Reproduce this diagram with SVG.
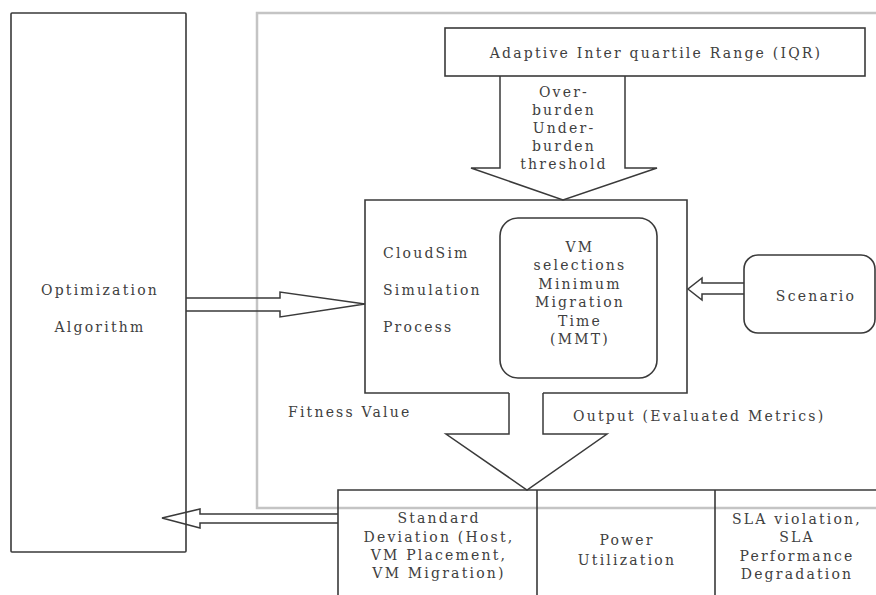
<svg xmlns="http://www.w3.org/2000/svg" width="876" height="595" viewBox="0 0 876 595">
  <style>
    .box { fill: none; stroke: #3a3a3a; stroke-width: 1.6; }
    .frame { fill: none; stroke: #c4c4c4; stroke-width: 2.5; }
    .arrow { fill: none; stroke: #3a3a3a; stroke-width: 1.5; stroke-linejoin: miter; }
    text { font-family: "DejaVu Serif", "Liberation Serif", serif; font-size: 14px; fill: #404040; letter-spacing: 2.2px; }
    .c { text-anchor: middle; }
  </style>
  <rect width="876" height="595" fill="#ffffff"/>

  <!-- outer light frame around the simulation part -->
  <path class="frame" d="M 880 13 H 257 V 508 H 880"/>

  <g id="optimization">
    <rect class="box" x="11" y="13" width="175" height="539" rx="1"/>
    <text class="c" x="100" y="295">Optimization</text>
    <text class="c" x="100" y="332">Algorithm</text>
  </g>

  <g id="iqr">
    <rect class="box" x="445" y="28" width="420" height="48"/>
    <text class="c" x="656" y="58">Adaptive Inter quartile Range (IQR)</text>
  </g>

  <g id="cloudsim">
    <path class="box" d="M 509 393 H 365 V 200 H 687 V 393 H 543"/>
    <text x="383" y="258">CloudSim</text>
    <text x="383" y="295">Simulation</text>
    <text x="383" y="332">Process</text>
  </g>

  <g id="vm-selection">
    <rect class="box" x="500" y="218" width="157" height="160" rx="18"/>
    <text class="c" x="580" y="252">VM</text>
    <text class="c" x="580" y="270">selections</text>
    <text class="c" x="580" y="289">Minimum</text>
    <text class="c" x="580" y="307">Migration</text>
    <text class="c" x="580" y="326">Time</text>
    <text class="c" x="580" y="344">(MMT)</text>
  </g>

  <g id="scenario">
    <rect class="box" x="744" y="255" width="131" height="78" rx="14"/>
    <text class="c" x="816" y="301">Scenario</text>
  </g>

  <g id="metrics">
    <path class="box" d="M 338 595 V 490 H 880 M 537 490 V 595 M 715 490 V 595"/>
    <text class="c" x="439" y="523">Standard</text>
    <text class="c" x="439" y="542">Deviation (Host,</text>
    <text class="c" x="439" y="560">VM Placement,</text>
    <text class="c" x="439" y="578">VM Migration)</text>
    <text class="c" x="627" y="545">Power</text>
    <text class="c" x="627" y="565">Utilization</text>
    <text class="c" x="797" y="524">SLA violation,</text>
    <text class="c" x="797" y="542">SLA</text>
    <text class="c" x="797" y="561">Performance</text>
    <text class="c" x="797" y="579">Degradation</text>
  </g>

  <g id="connectors">
    <!-- IQR thresholds down into the simulation -->
    <path class="arrow" d="M 500 76 V 168 H 471 L 563 200 L 657 168 H 625 V 76"/>
    <text class="c" x="564" y="97">Over-</text>
    <text class="c" x="564" y="115">burden</text>
    <text class="c" x="564" y="133">Under-</text>
    <text class="c" x="564" y="151">burden</text>
    <text class="c" x="564" y="169">threshold</text>

    <!-- optimization algorithm into the simulation -->
    <path class="arrow" d="M 186 298 H 280 V 292 L 365 304 L 280 317 V 311 H 186"/>

    <!-- scenario into the simulation -->
    <path class="arrow" d="M 744 283 H 702 V 278 L 688 289 L 702 300 V 294 H 744"/>

    <!-- simulation output down to the metrics -->
    <path class="arrow" d="M 509 393 V 434 H 446 L 527 490 L 607 434 H 543 V 393"/>
    <text x="288" y="417">Fitness Value</text>
    <text x="573" y="421">Output (Evaluated Metrics)</text>

    <!-- metrics fed back to the optimization algorithm -->
    <path class="arrow" d="M 338 514 H 200 V 509 L 162 518 L 200 528 V 523 H 338"/>
  </g>
</svg>
